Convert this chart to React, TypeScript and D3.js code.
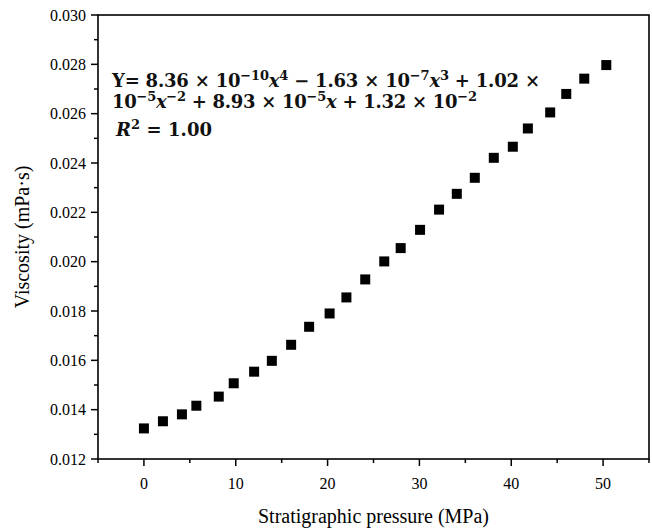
import * as d3 from 'd3';

// stratigraphic pressure (MPa) and viscosity (mPa·s)
const pressure = [0, 2.07, 4.14, 5.71, 8.15, 9.78, 12.0, 13.93, 16.03, 17.99, 20.22, 22.05, 24.1,
  26.17, 27.96, 30.07, 32.14, 34.07, 36.03, 38.1, 40.17, 41.81, 44.24, 45.99, 47.95, 50.35];
const viscosity = [0.01324, 0.01353, 0.01381, 0.01416, 0.01453, 0.01507, 0.01554, 0.01598, 0.01663,
  0.01736, 0.0179, 0.01855, 0.01928, 0.02001, 0.02055, 0.02129, 0.02211, 0.02275, 0.0234, 0.02421,
  0.02466, 0.0254, 0.02605, 0.0268, 0.02742, 0.02797];

const xTicks = [0, 10, 20, 30, 40, 50];
const xMinor = [-5, 5, 15, 25, 35, 45, 55];
const yTicks = [0.012, 0.014, 0.016, 0.018, 0.02, 0.022, 0.024, 0.026, 0.028, 0.03];
const yMinor = [0.013, 0.015, 0.017, 0.019, 0.021, 0.023, 0.025, 0.027, 0.029];

const W = 652, H = 532;
const left = 98, right = 649, top = 15, bottom = 459;

const serif = '"Liberation Serif", "Times New Roman", serif';
const mathFont = '"DejaVu Serif", serif';

export default function App() {
  const x = d3.scaleLinear().domain([-5, 55]).range([left, right]);
  const y = d3.scaleLinear().domain([0.012, 0.03]).range([bottom, top]);
  const pts = pressure.map((p, i) => [p, viscosity[i]]);
  const m = 10;

  const sup = (t: string) => (
    <tspan baselineShift="super" fontSize={13}>{t}</tspan>
  );
  const it = (t: string) => <tspan fontStyle="italic">{t}</tspan>;

  return (
    <svg width={W} height={H} style={{ position: 'absolute', left: 0, top: 0, background: '#fff' }}
      fontFamily={serif}>
      <rect x={0} y={0} width={W} height={H} fill="#fff" />
      {/* frame */}
      <rect x={left} y={top} width={right - left} height={bottom - top} fill="none" stroke="#000" strokeWidth={1.6} />

      {/* x ticks */}
      {xTicks.map(t => (
        <g key={'x' + t}>
          <line x1={x(t)} x2={x(t)} y1={bottom} y2={bottom + 7} stroke="#000" strokeWidth={1.5} />
          <text x={x(t)} y={bottom + 30} fontSize={16} textAnchor="middle">{t}</text>
        </g>
      ))}
      {xMinor.map(t => (
        <line key={'xm' + t} x1={x(t)} x2={x(t)} y1={bottom} y2={bottom + 4} stroke="#000" strokeWidth={1.5} />
      ))}

      {/* y ticks */}
      {yTicks.map(t => (
        <g key={'y' + t}>
          <line x1={left} x2={left - 7} y1={y(t)} y2={y(t)} stroke="#000" strokeWidth={1.5} />
          <text x={left - 12} y={y(t)} dy="0.35em" fontSize={16} textAnchor="end">{d3.format('.3f')(t)}</text>
        </g>
      ))}
      {yMinor.map(t => (
        <line key={'ym' + t} x1={left} x2={left - 4} y1={y(t)} y2={y(t)} stroke="#000" strokeWidth={1.5} />
      ))}

      {/* axis titles */}
      <text x={(left + right) / 2} y={523} fontSize={20} textAnchor="middle">Stratigraphic pressure (MPa)</text>
      <text transform={`translate(29,${(top + bottom) / 2}) rotate(-90)`} fontSize={20} textAnchor="middle">
        Viscosity (mPa·s)
      </text>

      {/* data */}
      {pts.map((d, i) => (
        <rect key={i} x={x(d[0]) - m / 2} y={y(d[1]) - m / 2} width={m} height={m} fill="#000" />
      ))}

      {/* fitted equation */}
      <g fontWeight="bold" fontSize={18} fill="#111" fontFamily={mathFont}>
        <text x={112} y={87} textLength={428} lengthAdjust="spacing">
          Y= 8.36 × 10{sup('−10')}{it('x')}{sup('4')} − 1.63 × 10{sup('−7')}{it('x')}{sup('3')} + 1.02 ×
        </text>
        <text x={112} y={108} textLength={365} lengthAdjust="spacing">
          10{sup('−5')}{it('x')}{sup('−2')} + 8.93 × 10{sup('−5')}{it('x')} + 1.32 × 10{sup('−2')}
        </text>
        <text x={116} y={136} textLength={96} lengthAdjust="spacing">
          {it('R')}{sup('2')} = 1.00
        </text>
      </g>
    </svg>
  );
}
